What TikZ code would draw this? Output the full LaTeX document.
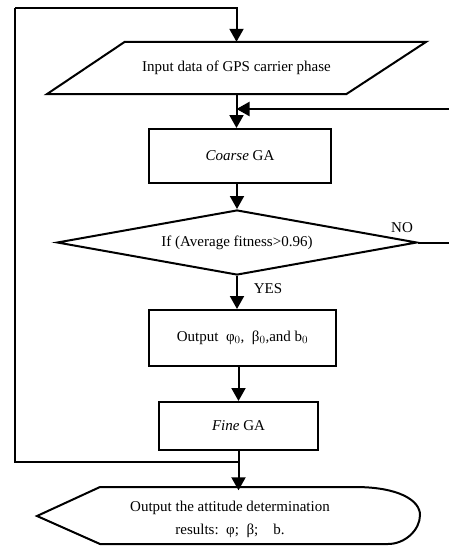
\documentclass[tikz,border=0pt]{standalone}
\usepackage{fontspec}
\setmainfont{Liberation Serif}
\usetikzlibrary{arrows.meta,shapes.geometric}
\begin{document}
\begin{tikzpicture}[x=1pt,y=-1pt,
  every node/.style={font=\fontsize{15}{17}\selectfont, inner sep=0pt},
  ln/.style={line width=2pt},
  arr/.style={ln, -{Triangle[length=13pt,width=14pt]}},
  boxx/.style={draw, line width=2pt, rectangle},
  ghost/.style={rectangle}]
\useasboundingbox (0,0) rectangle (448,546);

% nodes
\node[ghost, minimum width=379, minimum height=52] (inp) at (236.5,68) {Input data of GPS carrier phase};
\draw[ln, line join=miter] ([xshift=78]inp.north west) -- (inp.north east) -- ([xshift=-80]inp.south east) -- (inp.south west) -- cycle;

\node[boxx, minimum width=182, minimum height=54] (coarse) at (240,156) {\textit{Coarse} GA};

\node[draw, diamond, aspect=5.5, line width=2pt, minimum width=360, minimum height=65] (dec) at (237,242.5) {If (Average fitness>0.96)};

\node[boxx, minimum width=187, minimum height=56] (outp) at (242.5,338) {Output\ \ φ$_0$,\ \ β$_0$,and b$_0$};

\node[boxx, minimum width=159, minimum height=48] (fine) at (238.5,426) {\textit{Fine} GA};

\node[ghost, minimum width=383, minimum height=57, align=center, font=\fontsize{15}{23}\selectfont] (disp) at (230,519) {Output the attitude determination\\results:\ \ φ;\ \ β;\ \ \ \ b.};
\draw[ln] (100,487) -- (355,487) .. controls (398,487) and (420,500) .. (420,515)
  .. controls (420,530) and (405,544) .. (388,544) -- (100,544) -- (37,516) -- cycle;

% labels
\node (no) at (402,228) {NO};
\node (yes) at (268,289) {YES};

% coordinates
\coordinate (j1) at (238,462);
\coordinate (lb) at (15,462);
\coordinate (lt) at (15,8);
\coordinate (fb1) at (452,242.5);
\coordinate (fb2) at (452,109);
\coordinate (j2) at (236.5,109);

% connectors
\draw[arr] (inp.south) -- (inp.south |- coarse.north);
\draw[arr] (coarse.south -| dec.north) -- (dec.north);
\draw[arr] (dec.south) -- (dec.south |- outp.north);
\draw[arr] (outp.south -| fine.north) -- (fine.north);
\draw[arr] (fine.south) -- (fine.south |- disp.north);
\draw[ln] (j1) -- (lb) -- (lt);
\draw[arr] (lt) -| (inp.north);
\draw[ln] (dec.east) -- (fb1) -- (fb2);
\draw[arr] (fb2) -- (j2);
\end{tikzpicture}
\end{document}
